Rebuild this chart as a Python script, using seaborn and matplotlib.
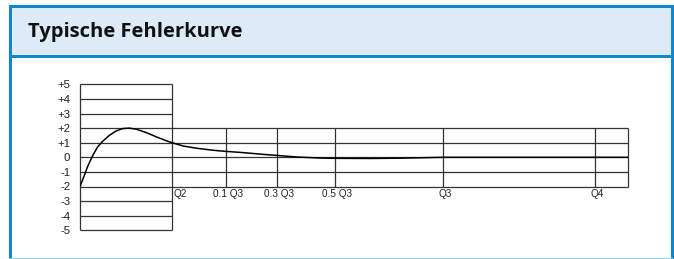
import matplotlib
matplotlib.use('Agg')
import matplotlib.pyplot as plt
from matplotlib.patches import Rectangle
import seaborn as sns
import numpy as np

# ---- data ----
title = 'Typische Fehlerkurve'

# error curve (x in chart units, y in error steps)
curve_x = [0, 4.3, 7.7, 12.7, 17.7, 22.7, 29.3, 36, 42.7, 49.3, 56, 66, 76, 86,
           92, 103.3, 116.7, 133.3, 145, 163.3, 183.3, 196.7, 216.7, 240, 255,
           290, 320, 363, 548]
curve_y = [-2, -1.25, -0.62, 0.12, 0.72, 1.1, 1.5, 1.8, 1.97, 2.0, 1.93, 1.7,
           1.41, 1.14, 1.0, 0.77, 0.62, 0.48, 0.41, 0.32, 0.2, 0.13, 0.02, -0.05,
           -0.07, -0.08, -0.06, 0.0, 0.0]

# region boundaries on the flow axis
bound_x = [0, 92, 146, 197, 255, 363, 515, 548]
bound_labels = ['', 'Q2', '0.1 Q3', '0.3 Q3', '0.5 Q3', 'Q3', 'Q4', '']

y_ticks = [5, 4, 3, 2, 1, 0, -1, -2, -3, -4, -5]
y_labels = ['+5', '+4', '+3', '+2', '+1', '0', '-1', '-2', '-3', '-4', '-5']

# inner (narrow) tolerance band and outer band
inner_band = [-2, -1, 0, 1, 2]
outer_band = [-5, -4, -3, 3, 4, 5]

W, H = 674, 259
BLUE = '#0E87CE'
HEAD = '#DDEBF8'
GRID = '#333333'

sns.set_theme(style='white')
plt.rcParams['font.family'] = ['Liberation Sans', 'DejaVu Sans']

fig = plt.figure(figsize=(W / 100, H / 100), dpi=100)

# ---- frame / header (pixel coordinates) ----
bg = fig.add_axes([0, 0, 1, 1])
bg.set_xlim(0, W)
bg.set_ylim(H, 0)
bg.axis('off')
bg.add_patch(Rectangle((10, 7), 661, 49, color=HEAD, lw=0))
bg.add_patch(Rectangle((9, 5), 664, 3, color=BLUE, lw=0))
bg.add_patch(Rectangle((9, 55), 664, 3, color=BLUE, lw=0))
bg.add_patch(Rectangle((9, 5), 3, H - 5, color=BLUE, lw=0))
bg.add_patch(Rectangle((671, 5), 3, H - 5, color=BLUE, lw=0))
bg.add_patch(Rectangle((9, 257.5), 664, 1.5, color='#8CCFF3', lw=0))
bg.text(28, 32.5, title, fontsize=14.5, fontweight='bold', color='#111111',
        va='center', ha='left', family=['Open Sans', 'DejaVu Sans'])

# ---- chart ----
left, right = 80, 628
top, bottom = 84.3, 230.3
ax = fig.add_axes([left / W, (H - bottom) / H, (right - left) / W, (bottom - top) / H])
ax.set_xlim(0, 548)
ax.set_ylim(-5, 5)
ax.patch.set_alpha(0)
for s in ax.spines.values():
    s.set_visible(False)

lw = 0.9
# horizontal lines
ax.hlines(inner_band, bound_x[0], bound_x[-1], color=GRID, lw=lw, clip_on=False)
ax.hlines(outer_band, bound_x[0], bound_x[1], color=GRID, lw=lw, clip_on=False)
# vertical lines
ax.vlines(bound_x[:2], -5, 5, color=GRID, lw=lw, clip_on=False)
ax.vlines(bound_x[2:], -2, 2, color=GRID, lw=lw, clip_on=False)

sns.lineplot(x=curve_x, y=curve_y, ax=ax, color='black', lw=1.1,
             sort=False, estimator=None)

for bx, lab in zip(bound_x, bound_labels):
    if not lab:
        continue
    if lab == 'Q2':
        ax.text(bx + 2, -2.2, lab, fontsize=7.2, ha='left', va='top', color='#222222')
    else:
        ax.text(bx + 2, -2.2, lab, fontsize=7.2, ha='center', va='top', color='#222222')

ax.set_xticks([])
ax.set_yticks(y_ticks)
ax.set_yticklabels(y_labels, fontsize=8.2, color='#222222')
ax.tick_params(axis='y', length=0, pad=7)

fig.savefig('out.png', dpi=100)
